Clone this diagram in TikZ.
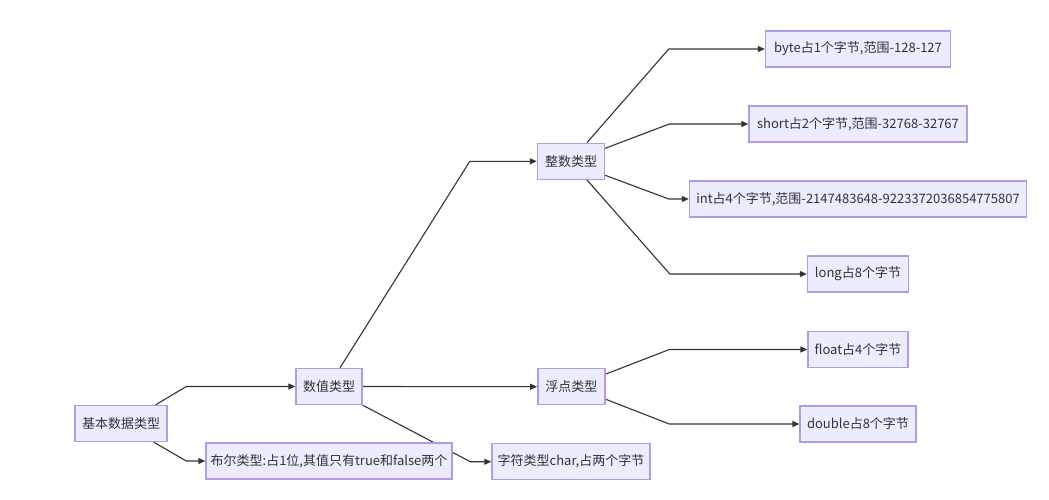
\documentclass[tikz,border=0pt]{standalone}
\usepackage{fontspec}
\setmainfont{Noto Sans CJK SC}
\usetikzlibrary{arrows.meta,backgrounds}
\definecolor{nfill}{HTML}{ECECFF}
\definecolor{nstroke}{HTML}{B49AE6}
\definecolor{edgec}{HTML}{333333}
\begin{document}
\begin{tikzpicture}[x=1pt,y=-1pt,
  box/.style={draw=nstroke,fill=nfill,line width=1.4pt,minimum height=36pt,inner sep=0pt,
    font=\fontsize{13}{15}\selectfont,text=edgec,anchor=center},
  edge/.style={draw=edgec,line width=1.1pt,-{Triangle[length=7pt,width=6pt]}}]
\useasboundingbox (0,0) rectangle (1049,500);
\node[box,minimum width=92pt] (jb) at (121,423.5) {基本数据类型};
\node[box,minimum width=66pt] (sz) at (329,386.5) {数值类型};
\node[box,minimum width=246pt] (be) at (329,461) {布尔类型:占1位,其值只有true和false两个};
\node[box,minimum width=67pt] (zs) at (571,161.3) {整数类型};
\node[box,minimum width=67pt] (fd) at (571.3,386.7) {浮点类型};
\node[box,minimum width=158pt] (zf) at (571,461.7) {字符类型char,占两个字节};
\node[box,minimum width=185pt] (by) at (858,49) {byte占1个字节,范围-128-127};
\node[box,minimum width=218pt] (sh) at (858,124) {short占2个字节,范围-32768-32767};
\node[box,minimum width=337pt] (in) at (858,199) {int占4个字节,范围-2147483648-9223372036854775807};
\node[box,minimum width=101pt] (lo) at (858,274) {long占8个字节};
\node[box,minimum width=100pt] (fl) at (858,349.5) {float占4个字节};
\node[box,minimum width=116pt] (db) at (858,424) {double占8个字节};
\begin{scope}[on background layer]
\draw[edge] ([xshift=-12pt]jb.north east) -- ([xshift=-109pt]sz.west) -- (sz.west);
\draw[edge] ([xshift=-14pt]jb.south east) -- ([xshift=-19pt]be.west) -- (be.west);
\draw[edge] ([xshift=11pt]sz.north) -- ([xshift=-67pt]zs.west) -- (zs.west);
\draw[edge] (sz.east) -- (fd.west);
\draw[edge] (sz.south east) -- ([xshift=-21pt]zf.west) -- (zf.west);
\draw[edge] ([xshift=16pt]zs.north) -- ([xshift=-96pt]by.west) -- (by.west);
\draw[edge] ([yshift=13pt]zs.east) -- ([xshift=-79pt]sh.west) -- (sh.west);
\draw[edge] ([yshift=-14pt]zs.east) -- ([xshift=-20pt]in.west) -- (in.west);
\draw[edge] ([xshift=16pt]zs.south) -- ([xshift=-137pt]lo.west) -- (lo.west);
\draw[edge] ([yshift=12.5pt]fd.east) -- ([xshift=-138pt]fl.west) -- (fl.west);
\draw[edge] ([yshift=-12.5pt]fd.east) -- ([xshift=-130pt]db.west) -- (db.west);
\end{scope}
\end{tikzpicture}
\end{document}
